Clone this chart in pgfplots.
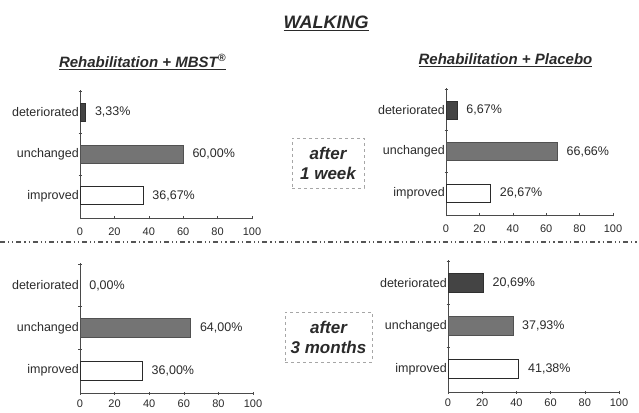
\documentclass[border=0pt]{standalone}
\usepackage{fontspec}
\setmainfont{Liberation Sans}
\usepackage{pgfplots}
\pgfplotsset{compat=1.18}
\definecolor{det}{HTML}{444444}
\definecolor{unc}{HTML}{747474}
\definecolor{ink}{HTML}{2A2A2A}
\pgfplotsset{
  panel/.style={
    xbar, scale only axis, axis lines*=left,
    xmin=0, xmax=100, ymin=0.47, ymax=3.53,
    xtick={0,20,40,60,80,100},
    ytick={1.5,2.5,3.5}, yticklabels={},
    extra y ticks={1,2,3},
    extra y tick labels={improved,unchanged,deteriorated},
    extra y tick style={major tick length=0pt},
    tick align=center, major tick length=3pt,
    axis line style={draw=ink!85, line width=0.7pt},
    tick style={draw=ink!85, line width=0.6pt},
    /pgf/number format/assume math mode=true,
    x tick label style={font=\fontsize{11}{13}\selectfont, text=ink, yshift=-5pt},
    y tick label style={font=\fontsize{12.5}{14}\selectfont, text=ink, inner sep=1pt},
    point meta=x,
    nodes near coords={\pgfmathprintnumber[fixed,fixed zerofill,precision=2,use comma]{\pgfplotspointmeta}\%},
    nodes near coords style={anchor=west, inner sep=0pt, xshift=9pt, font=\fontsize{12.5}{14}\selectfont, text=ink},
    clip=false,
  },
  lowpanel/.style={x tick label style={yshift=3.5pt}},
  impbar/.style={fill=white, draw=ink, line width=0.8pt, bar shift=0pt},
  uncbar/.style={fill=unc, draw=unc!70!black, line width=0.6pt, bar shift=0pt},
  detbar/.style={fill=det, draw=det!70!black, line width=0.6pt, bar shift=0pt},
}
\begin{document}
\begin{tikzpicture}
% top-left
\begin{axis}[panel, at={(80pt,194pt)}, anchor=south west, width=172pt, height=128pt, bar width=18pt]
\addplot[impbar] coordinates {(36.67,1)};
\addplot[uncbar] coordinates {(60.00,2)};
\addplot[detbar] coordinates {(3.33,3)};
\end{axis}
% top-right
\begin{axis}[panel, at={(446pt,197pt)}, anchor=south west, width=167pt, height=127pt, bar width=18pt]
\addplot[impbar] coordinates {(26.67,1)};
\addplot[uncbar] coordinates {(66.66,2)};
\addplot[detbar] coordinates {(6.67,3)};
\end{axis}
% bottom-left
\begin{axis}[panel, lowpanel, at={(80pt,19pt)}, anchor=south west, width=173pt, height=130pt, bar width=19pt]
\addplot[impbar] coordinates {(36.00,1)};
\addplot[uncbar] coordinates {(64.00,2)};
\addplot[detbar, draw=none] coordinates {(0.00,3)};
\end{axis}
% bottom-right
\begin{axis}[panel, lowpanel, at={(448pt,20pt)}, anchor=south west, width=171pt, height=132pt, bar width=19pt]
\addplot[impbar] coordinates {(41.38,1)};
\addplot[uncbar] coordinates {(37.93,2)};
\addplot[detbar] coordinates {(20.69,3)};
\end{axis}
% titles
\node[text=ink, font=\fontsize{18}{20}\selectfont\bfseries\itshape] at (326pt,389pt) {\underline{WALKING}};
\node[text=ink, font=\fontsize{15}{17}\selectfont\bfseries\itshape] at (142.5pt,350pt) {\underline{Rehabilitation + MBST\textsuperscript{®}}};
\node[text=ink, font=\fontsize{15}{17}\selectfont\bfseries\itshape] at (505.5pt,352pt) {\underline{Rehabilitation + Placebo}};
% centre boxes
\node[draw=gray!70, dashed, line width=0.6pt, minimum width=72pt, minimum height=50pt, align=center, text=ink, font=\fontsize{17}{20}\selectfont\bfseries\itshape] at (328pt,249pt) {after\\1 week};
\node[draw=gray!70, dashed, line width=0.6pt, minimum width=87pt, minimum height=50pt, align=center, text=ink, font=\fontsize{17}{20}\selectfont\bfseries\itshape] at (328.5pt,75pt) {after\\3 months};
% separator
\draw[ink!80, line width=1.2pt, dash pattern=on 5pt off 3pt on 1.2pt off 3pt on 1.2pt off 3pt] (0pt,170pt) -- (639pt,170pt);
\pgfresetboundingbox
\path[use as bounding box] (0pt,0pt) rectangle (639pt,412pt);
\end{tikzpicture}
\end{document}
